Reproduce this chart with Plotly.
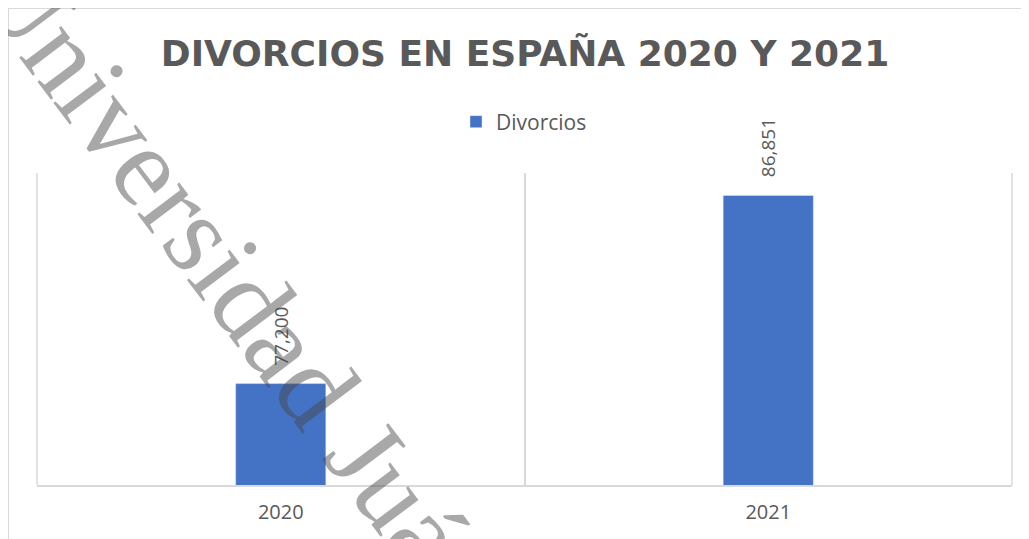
import plotly.graph_objects as go

# datos
years = ["2020", "2021"]
divorcios = [77200, 86851]
serie = "Divorcios"
titulo = "DIVORCIOS EN ESPAÑA 2020 Y 2021"
marca_agua = "Universidad Juárez"

W, H = 1029, 539
OFF = 8  # margen del body de la página
gris = "#595959"
linea = "#d9d9d9"


def px(x):
    return (x - OFF) / W


def py(y):
    return 1 - (y - OFF) / H


fig = go.Figure()
fig.add_trace(go.Bar(x=years, y=divorcios, name=serie,
                     marker_color="#4472C4", width=0.185))

# etiquetas de datos verticales sobre cada barra (x = índice de categoría)
for i, v in enumerate(divorcios):
    fig.add_annotation(x=i, y=v, text=f"{v:,}", textangle=-90,
                       showarrow=False, yanchor="bottom", yshift=16,
                       font=dict(family="Open Sans", size=19, color=gris))

# marca de agua
fig.add_annotation(x=px(263), y=py(316), xref="paper", yref="paper",
                   xanchor="center", yanchor="middle",
                   text=marca_agua, textangle=53, showarrow=False,
                   font=dict(family="Liberation Serif", size=114,
                             color="rgba(70,70,70,0.47)"))

# líneas verticales en los bordes del área de trazado
for xd in (0, 1):
    fig.add_shape(type="line", xref="x domain", yref="y domain",
                  x0=xd, x1=xd, y0=0, y1=1,
                  line=dict(color=linea, width=1.5), layer="below")

# marco del gráfico
fig.add_shape(type="line", xref="paper", yref="paper",
              x0=0, x1=1, y0=1, y1=1,
              line=dict(color=linea, width=2))
fig.add_shape(type="line", xref="paper", yref="paper",
              x0=0, x1=0, y0=0, y1=1,
              line=dict(color=linea, width=2))

fig.update_layout(
    width=W, height=H,
    margin=dict(l=0, r=0, t=0, b=0),
    paper_bgcolor="white", plot_bgcolor="white",
    title=dict(text="<b>" + titulo + "</b>", x=px(525), xanchor="center",
               y=py(53), yanchor="middle",
               font=dict(family="DejaVu Sans", size=36, color=gris)),
    legend=dict(orientation="h", x=px(456), y=py(122),
                xanchor="left", yanchor="middle",
                font=dict(family="Open Sans", size=21, color=gris)),
    showlegend=True,
    xaxis=dict(type="category", domain=[px(37), px(1012)],
               range=[-0.5, len(years) - 0.5], tickson="boundaries",
               showgrid=True, gridcolor=linea, gridwidth=1.5,
               showline=True, linecolor=linea, linewidth=1.5,
               ticks="", ticklen=0, ticklabelstandoff=8,
               tickfont=dict(family="Open Sans", size=20, color=gris)),
    yaxis=dict(domain=[py(485), py(173)], range=[72000, 88000],
               visible=False, showgrid=False),
)

fig.write_html("out.html")
